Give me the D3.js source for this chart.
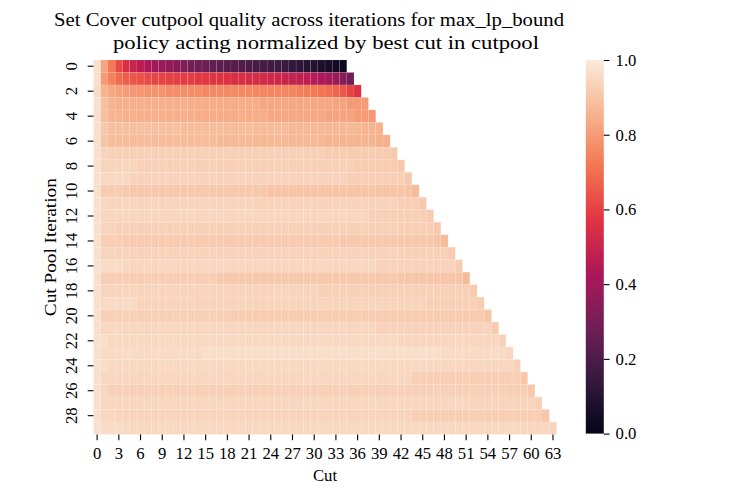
<!DOCTYPE html>
<html><head><meta charset="utf-8">
<script src="https://cdn.jsdelivr.net/npm/d3@7"></script>
<style>
body{margin:0;background:#fff}
svg{display:block}
text{font-family:"Liberation Serif","DejaVu Serif",serif;fill:#000}
</style>
</head><body>
<svg id="chart" width="747" height="498"></svg>
<script>
// ---------- data ----------
const titleLines = ["Set Cover cutpool quality across iterations for max_lp_bound",
                    "policy acting normalized by best cut in cutpool"];
const xLabel = "Cut";
const yLabel = "Cut Pool Iteration";
const nCuts = 64;          // cut columns 0..63
const nIterations = 30;    // iterations 0..29
const xTickLabels = [0,3,6,9,12,15,18,21,24,27,30,33,36,39,42,45,48,51,54,57,60,63];
const yTickLabels = [0,2,4,6,8,10,12,14,16,18,20,22,24,26,28];
const cbarTicks = [0.0,0.2,0.4,0.6,0.8,1.0];

// each row: plain numbers are single cells, [value, count] is a run of equal cells
const iter0 = [0.97,0.82,0.72,0.62,0.55,0.5,0.46,0.43,0.4,0.38,0.36,0.34,0.32,0.3,0.28,0.27,0.25,0.24,0.23,0.22,0.21,0.2,0.19,0.18,0.17,0.16,0.15,0.13,0.12,0.1,0.09,0.07,0.06,0.04,0.03];
const iter1 = [0.97,0.8,0.74,0.69,0.66,0.65,0.64,0.62,0.61,0.61,0.6,0.6,0.59,0.59,0.58,0.58,0.57,0.57,0.56,0.55,0.55,0.54,0.54,0.53,0.52,0.51,0.5,0.49,0.48,0.47,0.45,0.43,0.41,0.38,0.34,0.29];
const iter2 = [0.96,0.86,0.83,0.81,0.8,0.79,0.79,0.78,0.78,0.78,0.77,0.77,0.77,0.77,0.77,0.76,0.76,0.76,0.76,0.76,0.76,0.76,0.75,0.75,0.75,0.75,0.75,0.75,0.74,0.73,0.72,0.71,0.7,0.68,0.65,0.61,0.56];
const iter3 = [0.97,0.89,0.86,[0.85,10],[0.84,10],[0.83,10],[0.82,2],[0.8,3]];
const iter4 = [0.97,0.89,[0.86,2],[0.85,10],[0.84,10],[0.83,8],[0.82,4],[0.8,2],0.79];
const iter5 = [0.97,0.91,[0.89,10],[0.88,15],[0.87,10],[0.86,2],0.855];
const iter6 = [0.97,0.9,[0.88,15],[0.87,15],[0.86,7],[0.85,2]];
const iter7 = [0.97,0.94,[0.93,30],[0.92,9],0.91];
const iter8 = [0.97,[0.94,5],[0.93,30],[0.92,6],0.91];
const iter9 = [0.97,[0.95,4],[0.935,30],[0.925,8],0.91];
const iter10 = [0.97,[0.92,3],[0.91,20],[0.9,20],0.88];
const iter11 = [0.97,0.95,[0.94,20],[0.935,20],[0.925,3],0.91];
const iter12 = [0.97,[0.945,37],[0.93,8],0.915];
const iter13 = [0.97,[0.94,2],[0.93,40],[0.925,4],0.91];
const iter14 = [0.97,[0.925,3],[0.915,30],[0.91,13],0.9,0.88];
const iter15 = [0.97,[0.94,2],[0.935,40],[0.93,6],0.915];
const iter16 = [0.97,[0.96,3],[0.945,35],[0.935,11],0.92];
const iter17 = [0.97,[0.925,16],[0.91,25],[0.905,9],0.875];
const iter18 = [0.97,[0.94,30],[0.93,21],0.915];
const iter19 = [0.97,[0.955,5],[0.94,40],[0.93,7],0.92];
const iter20 = [0.97,[0.93,18],[0.92,30],[0.915,5],0.9];
const iter21 = [0.97,[0.95,3],[0.945,35],[0.935,16],0.915];
const iter22 = [0.97,0.965,[0.95,40],[0.945,14],0.935];
const iter23 = [0.97,[0.955,14],[0.965,33],[0.955,9],0.945];
const iter24 = [0.97,0.96,[0.95,45],[0.945,11],0.93];
const iter25 = [0.97,[0.945,43],[0.925,15],0.905];
const iter26 = [0.97,0.945,[0.93,55],[0.925,3],0.91];
const iter27 = [0.97,0.95,[0.945,50],[0.94,9],0.93];
const iter28 = [0.97,[0.95,2],[0.94,41],[0.925,18],0.905];
const iter29 = [0.97,[0.96,3],[0.95,55],[0.945,4],0.94];
const iterRows = [iter0,iter1,iter2,iter3,iter4,iter5,iter6,iter7,iter8,iter9,iter10,iter11,iter12,iter13,iter14,
                  iter15,iter16,iter17,iter18,iter19,iter20,iter21,iter22,iter23,iter24,iter25,iter26,iter27,iter28,iter29];

// rocket colormap anchor colours
const rocketStops = ["#03051a","#35193e","#701f57","#ad1759","#e13342","#f37651","#f6b48f","#faebdd"];

(function draw() {
  // ---------- build cells ----------
  const cells = [];
  iterRows.forEach((row, r) => {
    let c = 0;
    row.forEach(e => {
      const [v, n] = Array.isArray(e) ? e : [e, 1];
      for (let k = 0; k < n; k++) cells.push({row: r, col: c++, value: v});
    });
  });

  // ---------- layout ----------
  const svg = d3.select("#chart");
  const pLeft = 93.5, pRight = 556.6, pTop = 60, pBottom = 434.4;
  const x = d3.scaleBand().domain(d3.range(nCuts)).range([pLeft, pRight]);
  const y = d3.scaleBand().domain(d3.range(nIterations)).range([pTop, pBottom]);
  const color = d3.scaleLinear()
    .domain(rocketStops.map((_, i) => i / (rocketStops.length - 1)))
    .range(rocketStops).interpolate(d3.interpolateRgb).clamp(true);

  // heatmap
  svg.append("g").selectAll("rect").data(cells).join("rect")
    .attr("x", d => x(d.col)).attr("y", d => y(d.row))
    .attr("width", x.bandwidth()).attr("height", y.bandwidth())
    .attr("fill", d => color(d.value))
    .attr("stroke", "#ffffff").attr("stroke-opacity", 0.12).attr("stroke-width", 0.6);

  // x ticks
  const gx = svg.append("g");
  xTickLabels.forEach(t => {
    const cx = x(t) + x.bandwidth() / 2;
    gx.append("line").attr("x1", cx).attr("x2", cx).attr("y1", pBottom).attr("y2", pBottom + 5.8)
      .attr("stroke", "#000").attr("stroke-width", 1.1);
    gx.append("text").attr("x", cx).attr("y", 459).attr("text-anchor", "middle")
      .attr("font-size", 16.7).text(t);
  });
  // y ticks (rotated labels)
  const gy = svg.append("g");
  yTickLabels.forEach(t => {
    const cy = y(t) + y.bandwidth() / 2;
    gy.append("line").attr("x1", pLeft - 5.8).attr("x2", pLeft).attr("y1", cy).attr("y2", cy)
      .attr("stroke", "#000").attr("stroke-width", 1.1);
    gy.append("text").attr("transform", `translate(${pLeft - 16.5},${cy}) rotate(-90)`)
      .attr("text-anchor", "middle").attr("font-size", 16.7).text(t);
  });

  // axis labels
  svg.append("text").attr("x", (pLeft + pRight) / 2).attr("y", 481).attr("text-anchor", "middle")
    .attr("font-size", 16.7).text(xLabel);
  svg.append("text").attr("transform", `translate(56,${(pTop + pBottom) / 2}) rotate(-90)`)
    .attr("text-anchor", "middle").attr("font-size", 16.7).attr("textLength", 138)
    .attr("lengthAdjust", "spacingAndGlyphs").text(yLabel);

  // title (two lines, widths matched to the reference)
  svg.append("text").attr("x", 54).attr("y", 26).attr("font-size", 19)
    .attr("textLength", 510).attr("lengthAdjust", "spacingAndGlyphs").text(titleLines[0]);
  svg.append("text").attr("x", 113).attr("y", 49).attr("font-size", 19)
    .attr("textLength", 426).attr("lengthAdjust", "spacingAndGlyphs").text(titleLines[1]);

  // colorbar
  const cbX = 585.8, cbW = 18, cbTop = 60, cbBottom = 433.6;
  const defs = svg.append("defs");
  const grad = defs.append("linearGradient").attr("id", "cbgrad")
    .attr("x1", 0).attr("y1", 1).attr("x2", 0).attr("y2", 0);
  d3.range(0, 1.0001, 0.02).forEach(v => {
    grad.append("stop").attr("offset", v).attr("stop-color", color(v));
  });
  svg.append("rect").attr("x", cbX).attr("y", cbTop).attr("width", cbW).attr("height", cbBottom - cbTop)
    .attr("fill", "url(#cbgrad)");
  const cbScale = d3.scaleLinear().domain([0, 1]).range([cbBottom, cbTop]);
  const cbAxis = svg.append("g").attr("transform", `translate(${cbX + cbW},0)`)
    .call(d3.axisRight(cbScale).tickValues(cbarTicks).tickFormat(d3.format(".1f")).tickSize(5.8).tickPadding(6));
  cbAxis.select(".domain").remove();
  cbAxis.selectAll("text").attr("font-size", 16.7).attr("font-family", null);
  cbAxis.selectAll("line").attr("stroke-width", 1.1);
})();
</script>
</body></html>
